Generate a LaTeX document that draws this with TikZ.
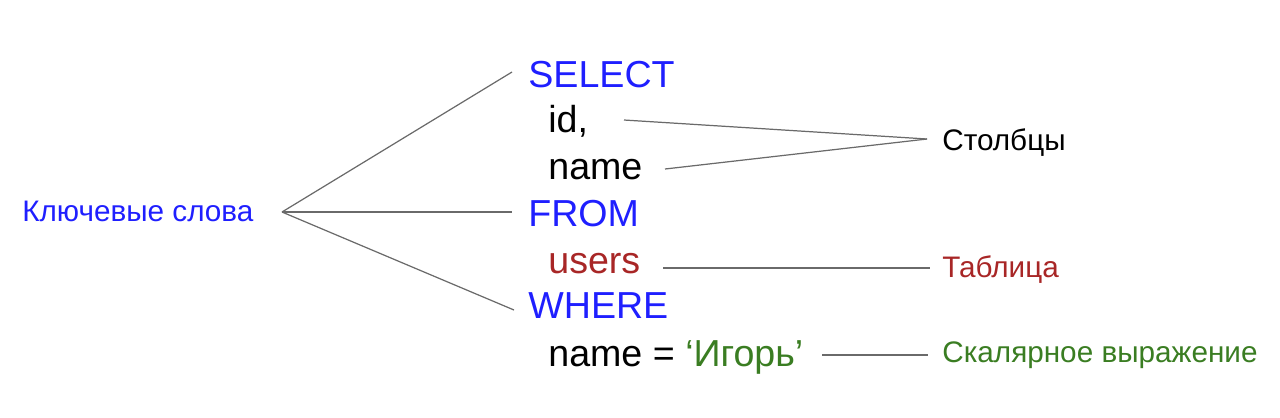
\documentclass[tikz,border=0pt]{standalone}
\usepackage{fontspec}
\setmainfont{Liberation Sans}
\definecolor{kwblue}{HTML}{1F1FFF}
\definecolor{tabred}{HTML}{A82626}
\definecolor{exgreen}{HTML}{3A7D22}
\definecolor{linegray}{HTML}{6A6A6A}
\begin{document}
\begin{tikzpicture}[x=0.02cm,y=-0.02cm,
		code/.style={anchor=base west,inner sep=0pt,font=\fontsize{21.4}{24}\selectfont},
		note/.style={anchor=west,inner sep=0pt,font=\fontsize{16.9}{20}\selectfont},
		lead/.style={draw=linegray,line width=0.7pt}]
				\useasboundingbox (0,0) rectangle (1280,417);
				\node[code,text=kwblue] (select) at (528,87) {SELECT};
				\node[code] (id) at (548,132) {id,};
				\node[code] (name) at (548,179) {name};
				\node[code,text=kwblue] (from) at (528,226) {FROM};
				\node[code,text=tabred] (users) at (548,273) {users};
				\node[code,text=kwblue] (where) at (528,318) {WHERE};
				\node[code] (cond) at (548,366) {name = \textcolor{exgreen}{‘Игорь’}};
				\node[note,text=kwblue] (keywords) at (22,211) {Ключевые слова};
				\node[note] (columns) at (942,143) {Столбцы};
				\node[note,text=tabred] (table) at (942,270) {Таблица};
				\node[note,text=exgreen] (scalar) at (942,355) {Скалярное выражение};
				\coordinate (hub) at (282,212);
				\coordinate (selectend) at (512,72);
				\coordinate (fromend) at (512,212);
				\coordinate (whereend) at (514,310);
				\coordinate (idend) at (624,120);
				\coordinate (nameend) at (665,169);
				\coordinate (colhub) at (927,139);
				\coordinate (usersend) at (663,268);
				\coordinate (tableend) at (930,268);
				\coordinate (condend) at (822,355);
				\coordinate (scalarend) at (928,355);
				\draw[lead] (hub) -- (selectend);
				\draw[lead] (hub) -- (fromend);
				\draw[lead] (hub) -- (whereend);
				\draw[lead] (idend) -- (colhub);
				\draw[lead] (nameend) -- (colhub);
				\draw[lead] (usersend) -- (tableend);
				\draw[lead] (condend) -- (scalarend);
			\end{tikzpicture}
\end{document}
